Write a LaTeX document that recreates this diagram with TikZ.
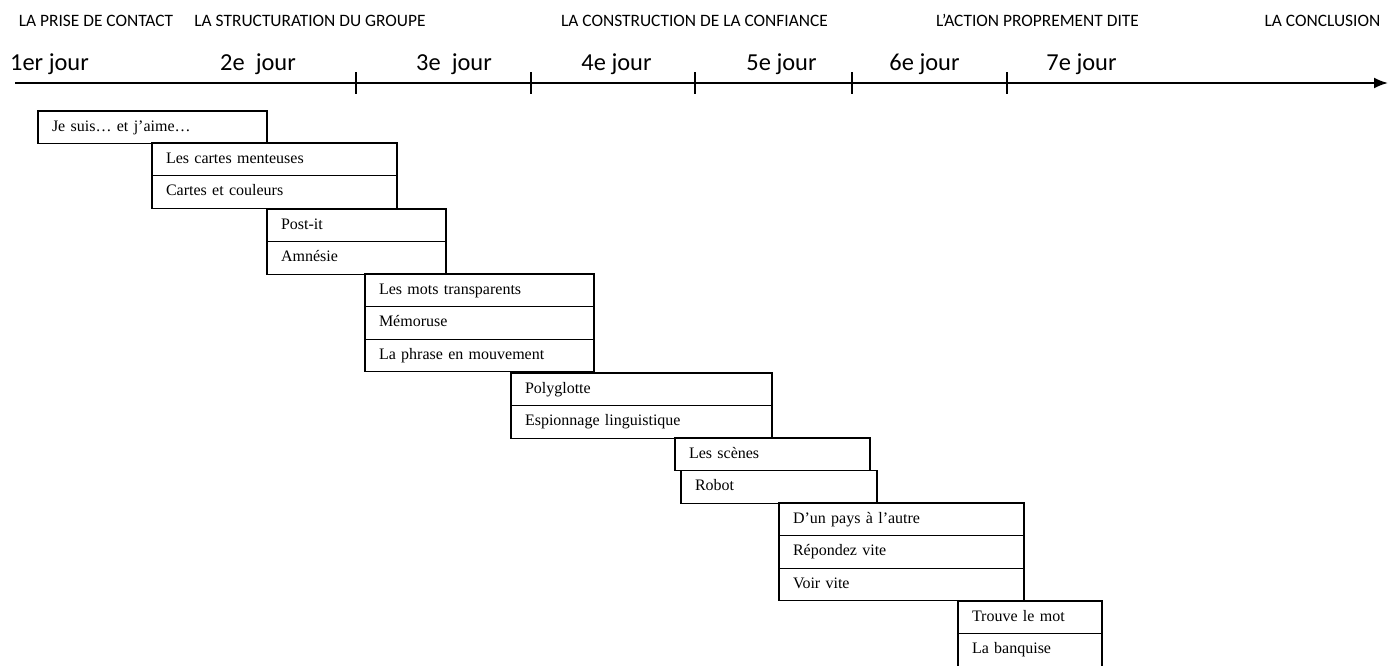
\documentclass[tikz,border=0pt]{standalone}
\usepackage{fontspec}
\usetikzlibrary{positioning,arrows.meta}
\newfontfamily\cellfont{Liberation Serif}
\newfontfamily\phasefont{Carlito}

\begin{document}
\begin{tikzpicture}[
        x=0.5pt, y=-0.5pt,
        phase/.style={anchor=base,inner sep=0pt,font=\phasefont\fontsize{8.7}{10}\selectfont},
        day/.style={anchor=base,inner sep=0pt,font=\phasefont\fontsize{12.2}{14}\selectfont},
        cell/.style={draw,line width=0.6pt,outer sep=0pt,anchor=north west,
            text width=#1,align=left,inner xsep=7pt,inner ysep=0pt,
            minimum height=16.3pt,text height=5.6pt,text depth=1.7pt,
            font=\cellfont\fontsize{8}{9.6}\selectfont},
        every path/.append style={line join=miter}
    ]
        \useasboundingbox (0,0) rectangle (1388,665);

        % phases
        \node [phase] (contact)    at (96,26)     {LA PRISE DE CONTACT};
        \node [phase] (structure)  at (310,26)    {LA STRUCTURATION DU GROUPE};
        \node [phase] (trust)      at (694.5,26)  {LA CONSTRUCTION DE LA CONFIANCE};
        \node [phase] (action)     at (1037.5,26) {L’ACTION PROPREMENT DITE};
        \node [phase] (conclusion) at (1322.5,26) {LA CONCLUSION};

        % days
        \node [day] (d1) at (49.5,70)   {1er jour};
        \node [day] (d2) at (258,70)    {2e\ \ jour};
        \node [day] (d3) at (454,70)    {3e\ \ jour};
        \node [day] (d4) at (616.5,70)  {4e jour};
        \node [day] (d5) at (781.5,70)  {5e jour};
        \node [day] (d6) at (924.5,70)  {6e jour};
        \node [day] (d7) at (1081.5,70) {7e jour};

        \coordinate (start) at (15,83);
        \coordinate (end) at (1388,83);
        \draw [-{Latex[length=7pt,width=5.5pt]},line width=1pt] (start) -- (end);
        \foreach \t in {356,531,695,852,1007}
            \draw [line width=1pt] (\t,72) -- (\t,94);

        % activities
        \node [cell=100.5pt] (jesuis) at (38,111) {Je suis… et j’aime…};

        \node [cell=108.5pt] (menteuses) at (152,143) {Les cartes menteuses};
        \node [cell=108.5pt,below=0pt of menteuses] (couleurs) {Cartes et couleurs};

        \node [cell=75.5pt] (postit) at (267,209) {Post-it};
        \node [cell=75.5pt,below=0pt of postit] (amnesie) {Amnésie};

        \node [cell=100.5pt] (transparents) at (365,274) {Les mots transparents};
        \node [cell=100.5pt,below=0pt of transparents] (memoruse) {Mémoruse};
        \node [cell=100.5pt,below=0pt of memoruse] (phrase) {La phrase en mouvement};

        \node [cell=116.5pt] (polyglotte) at (511,373) {Polyglotte};
        \node [cell=116.5pt,below=0pt of polyglotte] (espionnage) {Espionnage linguistique};

        \node [cell=83.5pt] (scenes) at (675,438) {Les scènes};
        \node [cell=84pt] (robot) at (681,470.5) {Robot};

        \node [cell=108.5pt] (pays) at (779,503) {D’un pays à l’autre};
        \node [cell=108.5pt,below=0pt of pays] (repondez) {Répondez vite};
        \node [cell=108.5pt,below=0pt of repondez] (voir) {Voir vite};

        \node [cell=58pt] (trouve) at (958,601) {Trouve le mot};
        \node [cell=58pt,below=0pt of trouve] (banquise) {La banquise};
    \end{tikzpicture}
\end{document}
